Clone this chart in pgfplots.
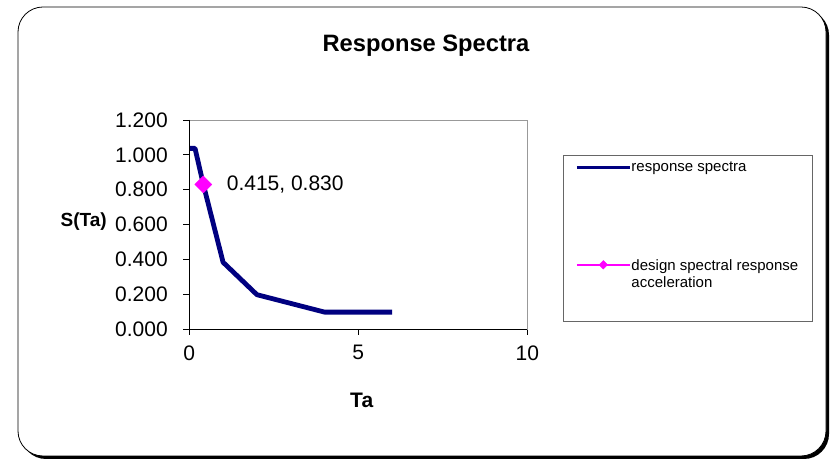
\documentclass[border=0pt]{standalone}
\usepackage{pgfplots}
\pgfplotsset{compat=1.18}
\usepackage{fontspec}
\setmainfont{Liberation Sans}
\definecolor{navy}{RGB}{0,0,128}
\definecolor{mag}{RGB}{255,0,255}
\begin{document}
\begin{tikzpicture}[x=1pt,y=1pt]
\path[use as bounding box] (0,0) rectangle (836,460);
\fill[black, rounded corners=25pt] (21,1) rectangle (829,450);
\filldraw[fill=white, draw=black, line width=0.8pt, rounded corners=25pt] (18,4) rectangle (826,453);
\node[anchor=base, font=\bfseries\fontsize{23.7}{27}\selectfont] at (426,408.3) {Response Spectra};
\node[font=\bfseries\fontsize{19}{22}\selectfont] at (83.7,238) {S(Ta)};
\node[font=\bfseries\fontsize{21}{24}\selectfont] at (361.7,59.5) {Ta};
\draw[gray!80!black, line width=0.8pt] (563,305) rectangle (812,139);
\begin{axis}[at={(189.3pt,131pt)}, anchor=south west, scale only axis,
  width=338pt, height=209pt,
  xmin=0, xmax=10, ymin=0, ymax=1.2,
  xtick={0,5,10}, ytick={0,0.2,0.4,0.6,0.8,1.0,1.2},
  yticklabel style={/pgf/number format/.cd, fixed, fixed zerofill, precision=3, /tikz/.cd, xshift=-12pt},
  xticklabel style={yshift=-7pt},
  /pgf/number format/assume math mode=true,
  tick label style={font=\fontsize{21}{24}\selectfont},
  tick align=outside, tick pos=left, major tick length=6pt,
  axis line style={gray!80, line width=0.8pt},
  tick style={black, line width=0.8pt},
  clip=false,
  legend image code/.code={\draw[mark repeat=2,mark phase=2,#1,every mark/.append style={scale=0.5}] plot coordinates {(0pt,0pt)(26.5pt,0pt)(53pt,0pt)};},
  legend cell align=left,
  legend style={at={(axis description cs:1.1411,0.8014)}, anchor=north west, draw=none, fill=none,
    inner sep=0pt, row sep=85pt, font=\fontsize{15}{17.5}\selectfont,
    nodes={inner sep=0pt}, /tikz/every even column/.append style={column sep=4.5pt}},
]
\addplot[navy, line width=4.8pt, line join=round, legend image post style={line width=3.3pt}] coordinates {
  (0,1.037) (0.17,1.037) (0.415,0.83) (1,0.383) (2,0.197) (4,0.097) (6,0.097)
};
\addlegendentry{response spectra}
\addplot[mag, line width=2pt, mark=square*, mark size=6pt, mark options={rotate=45, solid, line width=0.5pt}] coordinates {(0.415,0.830)};
\addlegendentry{\begin{tabular}[t]{@{}l@{}}design spectral response\\acceleration\end{tabular}}
\node[anchor=west, font=\fontsize{21}{24}\selectfont, xshift=20pt] at (axis cs:0.415,0.83) {0.415, 0.830};
\draw[black, line width=0.8pt] (rel axis cs:0,1) -- (rel axis cs:0,0) -- (rel axis cs:1,0);
\end{axis}
\end{tikzpicture}
\end{document}
